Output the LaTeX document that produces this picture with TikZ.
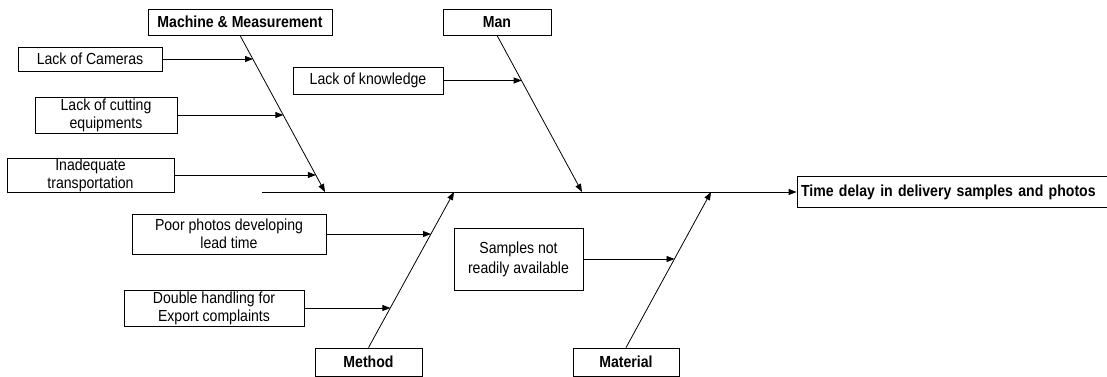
\documentclass[tikz,border=0pt]{standalone}
\usepackage{fontspec}
\setmainfont{Liberation Sans}[FakeStretch=0.88]
\usetikzlibrary{arrows.meta}
\begin{document}
\begin{tikzpicture}[x=1pt,y=-1pt,
  box/.style={draw,line width=0.8pt,rectangle,inner sep=0pt,align=center,
    font=\fontsize{16}{18}\selectfont},
  cat/.style={box,font=\fontsize{16}{18}\selectfont\bfseries},
  bone/.style={line width=0.8pt,-{Triangle[length=8pt,width=6pt]}},
]
\clip (0,0) rectangle (1107,377);
\useasboundingbox (0,0) rectangle (1107,377);

% category boxes
\node[cat,minimum width=184pt,minimum height=26pt] (mm) at (240,22) {Machine \& Measurement};
\node[cat,minimum width=108pt,minimum height=26pt] (man) at (497,22) {Man};
\node[cat,minimum width=107pt,minimum height=28pt] (meth) at (368.5,362) {Method};
\node[cat,minimum width=106pt,minimum height=28pt] (mat) at (626,362) {Material};

% effect
\node[cat,minimum width=315pt,minimum height=31pt,text width=307pt,align=left] (effect) at (954.5,192) {Time delay in delivery samples and photos};

% causes
\node[box,minimum width=144pt,minimum height=24pt] (cam) at (90,59) {Lack of Cameras};
\node[box,minimum width=142pt,minimum height=36pt] (cut) at (106,115) {Lack of cutting\\equipments};
\node[box,minimum width=167pt,minimum height=34pt] (inad) at (90.5,175) {Inadequate\\transportation};
\node[box,minimum width=150pt,minimum height=27pt] (know) at (368,80.5) {Lack of knowledge};
\node[box,minimum width=194pt,minimum height=40pt] (poor) at (229,234) {Poor photos developing\\lead time};
\node[box,minimum width=180pt,minimum height=36pt] (dbl) at (214,308) {Double handling for\\Export complaints};
\node[box,minimum width=129pt,minimum height=62pt,font=\fontsize{16}{20}\selectfont] (samp) at (518.5,259) {Samples not\\readily available};

% spine
\coordinate (tail) at (262,192);
\coordinate (mmtip) at (325,192);
\coordinate (mantip) at (582,192);
\coordinate (methtip) at (454,192);
\coordinate (mattip) at (711,192);
\draw[bone] (tail) -- (effect.west);

% bones
\draw[bone] (mm.south) -- (mmtip);
\draw[bone] (man.south) -- (mantip);
\draw[bone] (meth.north) -- (methtip);
\draw[bone] (mat.north) -- (mattip);

% points on the bones
\path (mm.south) -- (mmtip) coordinate[pos=0.153] (b1) coordinate[pos=0.51] (b2) coordinate[pos=0.892] (b3);
\path (man.south) -- (mantip) coordinate[pos=0.29] (b4);
\path (meth.north) -- (methtip) coordinate[pos=0.731] (b5) coordinate[pos=0.256] (b6);
\path (mat.north) -- (mattip) coordinate[pos=0.571] (b7);

% cause arrows
\draw[bone] (cam.east) -- (cam.east -| b1);
\draw[bone] (cut.east) -- (cut.east -| b2);
\draw[bone] (inad.east) -- (inad.east -| b3);
\draw[bone] (know.east) -- (know.east -| b4);
\draw[bone] (poor.east) -- (poor.east -| b5);
\draw[bone] (dbl.east) -- (dbl.east -| b6);
\draw[bone] (samp.east) -- (samp.east -| b7);
\end{tikzpicture}
\end{document}
